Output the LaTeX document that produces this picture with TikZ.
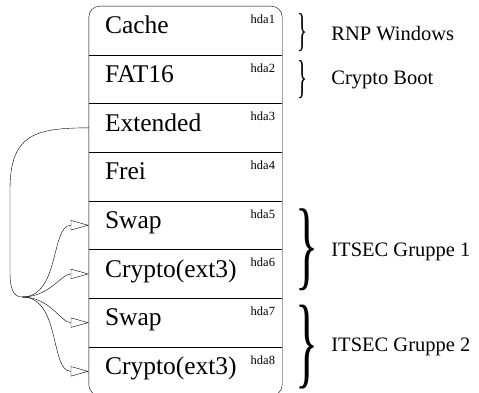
\documentclass[tikz,border=0pt]{standalone}
\usepackage{graphicx}
\usepackage{fontspec}
\setmainfont{Liberation Serif}
\usetikzlibrary{positioning,arrows.meta}

\begin{document}
\begin{tikzpicture}[x=1pt,y=1pt]
	\tikzstyle{every node}+=[inner sep=0pt]
	\tikzstyle{part}=[rectangle,minimum width=193pt,minimum height=48.3pt]
	\tikzstyle{partname}=[anchor=west,text height=0.66em,text depth=0pt,font=\fontsize{25.5}{30}\selectfont]
	\tikzstyle{dev}=[anchor=north east,font=\fontsize{12.5}{14}\selectfont]
	\tikzstyle{grp}=[anchor=west,font=\fontsize{20.5}{24}\selectfont]
	\tikzstyle{brc}=[anchor=west]
	\tikzstyle{link}=[-{Triangle[open,length=18pt,width=10pt]}]
	\useasboundingbox (0,0) rectangle (479,392);
	% partitions
	\node [part] (p1) at (185.5,361.55) {};
	\node [part,below=0pt of p1] (p2) {};
	\node [part,below=0pt of p2] (p3) {};
	\node [part,below=0pt of p3] (p4) {};
	\node [part,below=0pt of p4] (p5) {};
	\node [part,below=0pt of p5] (p6) {};
	\node [part,below=0pt of p6] (p7) {};
	\node [part,below=0pt of p7] (p8) {};
	\foreach \i/\t in {1/Cache,2/FAT16,3/Extended,4/Frei,5/Swap,6/Crypto(ext3),7/Swap,8/Crypto(ext3)} {
		\node [partname] (n\i) at ([xshift=16pt]p\i.west) {\t};
		\node [dev] (h\i) at ([xshift=-7pt,yshift=-8.5pt]p\i.north east) {hda\i};
	}
	\foreach \i in {1,...,7}
		\draw (p\i.south west) -- (p\i.south east);
	\draw [rounded corners=11pt] (p1.north west) rectangle (p8.south east);
	% braces
	\node [brc] (b1) at ([xshift=15pt,yshift=-2pt]p1.east) {\resizebox*{10pt}{38pt}{\}}};
	\node [brc] (b2) at ([xshift=15pt]p2.east) {\resizebox*{10pt}{38pt}{\}}};
	\node [brc] (b3) at ([xshift=13pt]p5.south east) {\resizebox*{23pt}{82pt}{\}}};
	\node [brc] (b4) at ([xshift=13pt]p7.south east) {\resizebox*{23pt}{84pt}{\}}};
	\node [grp] (g1) at ([xshift=49pt,yshift=-3pt]p1.east) {RNP Windows};
	\node [grp] (g2) at ([xshift=49pt,yshift=-1pt]p2.east) {Crypto Boot};
	\node [grp] (g3) at ([xshift=49pt,yshift=-2pt]p5.south east) {ITSEC Gruppe 1};
	\node [grp] (g4) at ([xshift=49pt]p7.south east) {ITSEC Gruppe 2};
	% links
	\coordinate (split) at (22,95);
	\draw (p3.west) .. controls +(-55,0) and +(0,55) .. (10,202) -- (10,120)
		.. controls +(0,-18) and +(-8,0) .. (split);
	\draw [link] (split) to[out=0,in=180] (p5.west);
	\draw [link] (split) to[out=0,in=180] (p6.west);
	\draw [link] (split) to[out=0,in=180] (p7.west);
	\draw [link] (split) to[out=0,in=180] (p8.west);
\end{tikzpicture}
\end{document}
